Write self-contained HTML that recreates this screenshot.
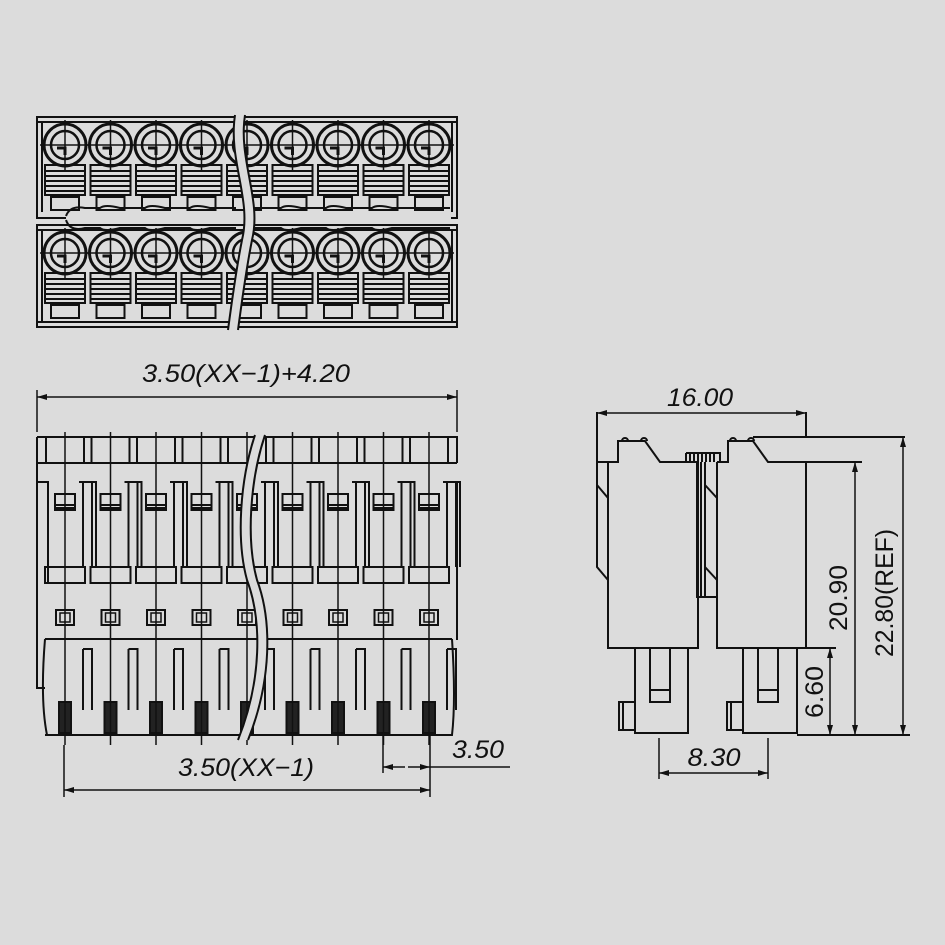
<!DOCTYPE html>
<html><head><meta charset="utf-8"><style>
html,body{margin:0;padding:0;background:#dcdcdc;}
svg{display:block}
text{font-family:"Liberation Sans",sans-serif;fill:#111;}
</style></head><body>
<svg width="945" height="945" viewBox="0 0 945 945" xmlns="http://www.w3.org/2000/svg">
<rect width="945" height="945" fill="#dcdcdc"/>
<defs>
<marker id="ar" viewBox="0 0 10 6" refX="10" refY="3" markerWidth="10" markerHeight="6" orient="auto-start-reverse" markerUnits="userSpaceOnUse">
<path d="M0,0 L10,3 L0,6 z" fill="#111"/></marker>
<g id="tc" fill="none" stroke="#111">
<circle cx="0" cy="0" r="21" stroke-width="3"/>
<circle cx="0" cy="0" r="14" stroke-width="2.5"/>
<path d="M-25,0 H25 M0,-25 V25" stroke-width="1.5"/>
<path d="M-8,3 H0 V10" stroke-width="3"/>
<rect x="-20" y="20" width="40" height="30" stroke-width="2"/>
<path d="M-20,26 H20 M-20,31 H20 M-20,36 H20 M-20,41 H20 M-20,46 H20" stroke-width="2"/>
<rect x="-14" y="52" width="28" height="13" stroke-width="2"/>
</g>
<g id="fc" fill="none" stroke="#111" stroke-width="2">
<rect x="-19" y="437" width="38" height="26"/>
<rect x="-10" y="494" width="20" height="16"/>
<path d="M-10,505 H10 M-10,508 H10"/>
<path d="M-20,567 H20 V583 H-20 z"/>
<rect x="-9" y="610" width="18" height="15"/>
<rect x="-5" y="613" width="10" height="9" stroke-width="1.5"/>
<path d="M14,482 H31 V567 M18,482 V567 M27,482 V567" />
<path d="M18,649 H27 V710 M18,649 V710"/>
<path d="M-20,735 H20"/>
<rect x="-6" y="702" width="12" height="31" fill="#222"/>
<path d="M0,432 V745" stroke-width="1.5"/>
</g>
</defs>

<!-- TOP VIEW -->
<g fill="none" stroke="#111" stroke-width="2">
<rect x="37" y="117" width="420" height="101"/>
<path d="M37,122 H457"/>
<rect x="37" y="225" width="420" height="102"/>
<path d="M37,230 H457 M37,322 H457"/>
<path d="M42,122 V212 M452,122 V212 M42,230 V322 M452,230 V322"/>
</g>
<use href="#tc" x="65" y="145"/><use href="#tc" x="110.5" y="145"/><use href="#tc" x="156" y="145"/><use href="#tc" x="201.5" y="145"/><use href="#tc" x="247" y="145"/><use href="#tc" x="292.5" y="145"/><use href="#tc" x="338" y="145"/><use href="#tc" x="383.5" y="145"/><use href="#tc" x="429" y="145"/>
<use href="#tc" x="65" y="253"/><use href="#tc" x="110.5" y="253"/><use href="#tc" x="156" y="253"/><use href="#tc" x="201.5" y="253"/><use href="#tc" x="247" y="253"/><use href="#tc" x="292.5" y="253"/><use href="#tc" x="338" y="253"/><use href="#tc" x="383.5" y="253"/><use href="#tc" x="429" y="253"/>
<path d="M65,210 Q75,230 65,230" fill="none" stroke="#111" stroke-width="0"/>
<rect x="66" y="212" width="385" height="12" fill="#dcdcdc"/>
<path d="M66,216 Q70,205 85,208 H100 Q105,204 120,208 H145 Q150,204 165,208 H190 Q195,204 210,208 H236 M250,208 H281 Q286,204 301,208 H326 Q331,204 346,208 H372 Q377,204 392,208 H450" fill="none" stroke="#111" stroke-width="2"/>
<path d="M66,220 Q70,232 85,228 H100 Q105,232 120,228 H145 Q150,232 165,228 H190 Q195,232 210,228 H236 M250,228 H281 Q286,232 301,228 H326 Q331,232 346,228 H372 Q377,232 392,228 H450" fill="none" stroke="#111" stroke-width="2"/>
<path d="M235,115 C228,160 252,200 242,240 C236,270 232,300 228,330 L238,330 C242,300 246,270 252,240 C262,200 238,160 245,115 z" fill="#dcdcdc" stroke="#dcdcdc"/>
<path d="M235,115 C228,160 252,200 242,240 C236,270 232,300 228,330 M245,115 C238,160 262,200 252,240 C246,270 242,300 238,330" fill="none" stroke="#111" stroke-width="2"/>

<!-- FRONT VIEW -->
<g fill="none" stroke="#111" stroke-width="2">
<path d="M37,437 V688 H45 M37,463 H457 M37,437 H457 V463"/>
<path d="M37,482 H48 V583 M457,482 V640"/>
<path d="M45,639 H452 M45,639 Q40,700 47,735 H452 Q456,700 452,639"/>
</g>
<use href="#fc" x="65"/><use href="#fc" x="110.5"/><use href="#fc" x="156"/><use href="#fc" x="201.5"/><use href="#fc" x="247"/><use href="#fc" x="292.5"/><use href="#fc" x="338"/><use href="#fc" x="383.5"/><use href="#fc" x="429"/>
<path d="M255,435 C240,480 236,540 247,580 C262,620 262,680 238,740 L248,740 C272,680 272,620 257,580 C246,540 250,480 265,435 z" fill="#dcdcdc"/>
<path d="M255,435 C240,480 236,540 247,580 C262,620 262,680 238,740 M265,435 C250,480 246,540 257,580 C272,620 272,680 248,740" fill="none" stroke="#111" stroke-width="2"/>

<!-- front dims -->
<g stroke="#111" stroke-width="1.5" fill="none">
<path d="M37,390 V432 M457,390 V432"/>
<path d="M37,397 H457" marker-start="url(#ar)" marker-end="url(#ar)"/>
<path d="M64,745 V797 M430,735 V797 M383,735 V773"/>
<path d="M64,790 H430" marker-start="url(#ar)" marker-end="url(#ar)"/>
<path d="M405,767 H383" marker-end="url(#ar)"/>
<path d="M408,767 H430" marker-end="url(#ar)"/>
<path d="M430,767 H510"/>
</g>
<text x="246" y="382" font-size="25" font-style="italic" text-anchor="middle" textLength="208" lengthAdjust="spacingAndGlyphs">3.50(XX−1)+4.20</text>
<text x="246" y="776" font-size="25" font-style="italic" text-anchor="middle" textLength="136" lengthAdjust="spacingAndGlyphs">3.50(XX−1)</text>
<text x="478" y="758" font-size="25" font-style="italic" text-anchor="middle" textLength="52" lengthAdjust="spacingAndGlyphs">3.50</text>

<!-- SIDE VIEW -->
<g fill="none" stroke="#111" stroke-width="2">
<path d="M597,462 H618 V441 H645 L660,462 H697"/>
<path d="M622,441 a3,3 0 0 1 6,0 M641,441 a3,3 0 0 1 6,0"/>
<path d="M597,462 V485 M597,485 V567 L608,580 M597,485 L608,498 V580"/>
<path d="M608,462 V648 H698 V462"/>
<path d="M717,462 H728 V441 H753 L768,462 H806"/>
<path d="M730,441 a3,3 0 0 1 6,0 M748,441 a3,3 0 0 1 6,0"/>
<path d="M753,437 H905 M806,462 H862"/>
<path d="M717,462 V648 H806 V462 M806,437 V412 M597,412 V462"/>
<path d="M705,485 V567 L717,580 M705,485 L717,498"/>
<path d="M697,462 V597 H705 M701,462 V597 M705,462 V597 H717"/>
<path d="M686,453 H720 V462 M686,453 V462"/>
<path d="M690,453 V462 M694,453 V462 M698,453 V462 M702,453 V462 M706,453 V462 M710,453 V462 M714,453 V462"/>
<path d="M635,648 V733 H688 V648 M650,648 V702 H670 V648 M650,690 H670"/>
<path d="M619,702 H635 V730 H619 z M623,702 V730"/>
<path d="M743,648 V733 H797 V648 M758,648 V702 H778 V648 M758,690 H778"/>
<path d="M727,702 H743 V730 H727 z M731,702 V730"/>
<path d="M797,735 H910 M797,648 H836"/>
</g>
<g stroke="#111" stroke-width="1.5" fill="none">
<path d="M597,413 H806" marker-start="url(#ar)" marker-end="url(#ar)"/>
<path d="M659,738 V779 M768,738 V779"/>
<path d="M659,773 H768" marker-start="url(#ar)" marker-end="url(#ar)"/>
<path d="M830,648 V735" marker-start="url(#ar)" marker-end="url(#ar)"/>
<path d="M855,462 V735" marker-start="url(#ar)" marker-end="url(#ar)"/>
<path d="M903,437 V735" marker-start="url(#ar)" marker-end="url(#ar)"/>
</g>
<text x="700" y="406" font-size="25" font-style="italic" text-anchor="middle" textLength="66" lengthAdjust="spacingAndGlyphs">16.00</text>
<text x="714" y="766" font-size="25" font-style="italic" text-anchor="middle" textLength="53" lengthAdjust="spacingAndGlyphs">8.30</text>
<text transform="translate(823,692) rotate(-90)" font-size="25" text-anchor="middle" textLength="52" lengthAdjust="spacingAndGlyphs">6.60</text>
<text transform="translate(847,598) rotate(-90)" font-size="25" text-anchor="middle" textLength="66" lengthAdjust="spacingAndGlyphs">20.90</text>
<text transform="translate(893,593) rotate(-90)" font-size="25" text-anchor="middle" textLength="128" lengthAdjust="spacingAndGlyphs">22.80(REF)</text>
</svg>
</body></html>
